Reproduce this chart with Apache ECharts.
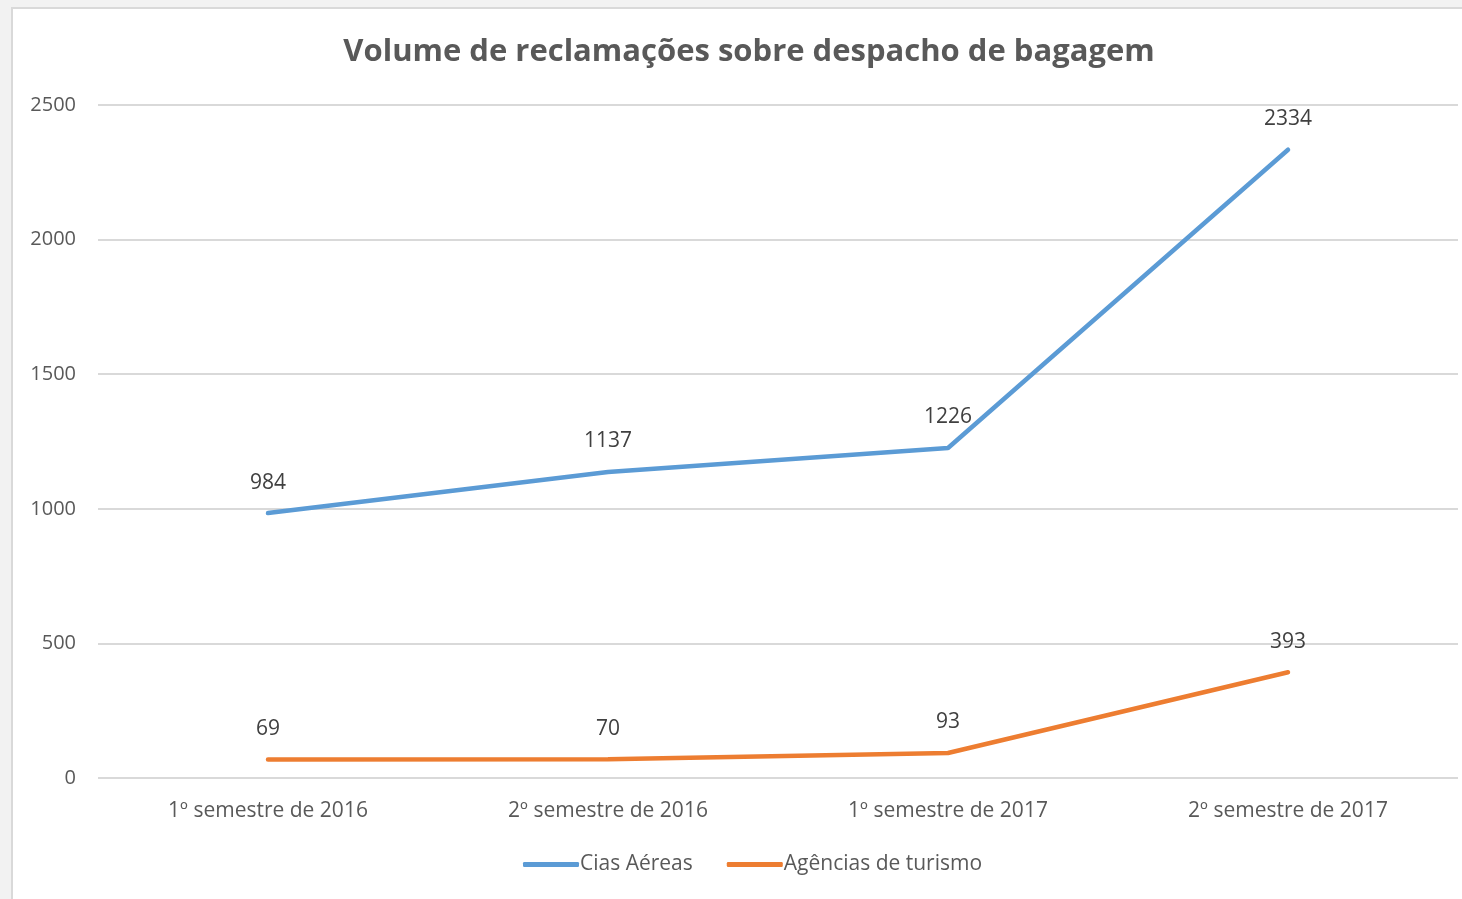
<!DOCTYPE html>
<html>
<head>
<meta charset="utf-8">
<script src="https://cdn.jsdelivr.net/npm/echarts@6/dist/echarts.min.js"></script>
<style>
  html, body { margin: 0; padding: 0; background: #f2f2f2; }
  #frame { position: absolute; left: 11px; top: 7px; right: 0; bottom: 0; background: #fff; border-left: 2px solid #d9d9d9; border-top: 2px solid #d9d9d9; }
  #chart { position: absolute; left: 0; top: 0; width: 1462px; height: 899px; }
</style>
</head>
<body>
<div id="frame"></div>
<div id="chart"></div>
<script>
const categories = ['1º semestre de 2016', '2º semestre de 2016', '1º semestre de 2017', '2º semestre de 2017']
const ciasAereas = [984, 1137, 1226, 2334]
const agenciasTurismo = [69, 70, 93, 393]
const yTicks = [0, 500, 1000, 1500, 2000, 2500]

const font = 'Open Sans'
const chart = echarts.init(document.getElementById('chart'))

const lineSeries = (name, data, color) => ({
  name,
  type: 'line',
  data,
  symbol: 'circle',
  symbolSize: 0.1,
  lineStyle: { width: 4.5, color, cap: 'round' },
  itemStyle: { color },
  label: {
    show: true,
    position: 'top',
    distance: 20,
    color: '#404040',
    fontSize: 21,
    fontFamily: font
  }
})

chart.setOption({
  animation: false,
  backgroundColor: 'transparent',
  title: {
    text: 'Volume de reclamações sobre despacho de bagagem',
    left: 744,
    textAlign: 'center',
    top: 32,
    textStyle: { color: '#595959', fontSize: 31, fontWeight: 'bold', fontFamily: font }
  },
  grid: { left: 98, right: 4, top: 105, bottom: 121 },
  xAxis: {
    type: 'category',
    data: categories,
    boundaryGap: true,
    axisLine: { show: false },
    axisTick: { show: false },
    axisLabel: { color: '#595959', fontSize: 21, fontFamily: font, margin: 23 }
  },
  yAxis: {
    type: 'value',
    min: yTicks[0],
    max: yTicks[yTicks.length - 1],
    interval: 500,
    axisLine: { show: false },
    axisTick: { show: false },
    axisLabel: { color: '#595959', fontSize: 20, fontFamily: font, margin: 22, formatter: v => String(v) },
    splitLine: { lineStyle: { color: '#d9d9d9', width: 2 } }
  },
  legend: {
    bottom: 19,
    left: 518,
    itemWidth: 56,
    itemHeight: 5,
    itemGap: 34,
    icon: 'roundRect',
    textStyle: { color: '#595959', fontSize: 21, fontFamily: font, padding: [0, 0, 0, -4] },
    data: ['Cias Aéreas', 'Agências de turismo']
  },
  series: [
    lineSeries('Cias Aéreas', ciasAereas, '#5b9bd5'),
    lineSeries('Agências de turismo', agenciasTurismo, '#ed7d31')
  ]
})
</script>
</body>
</html>
